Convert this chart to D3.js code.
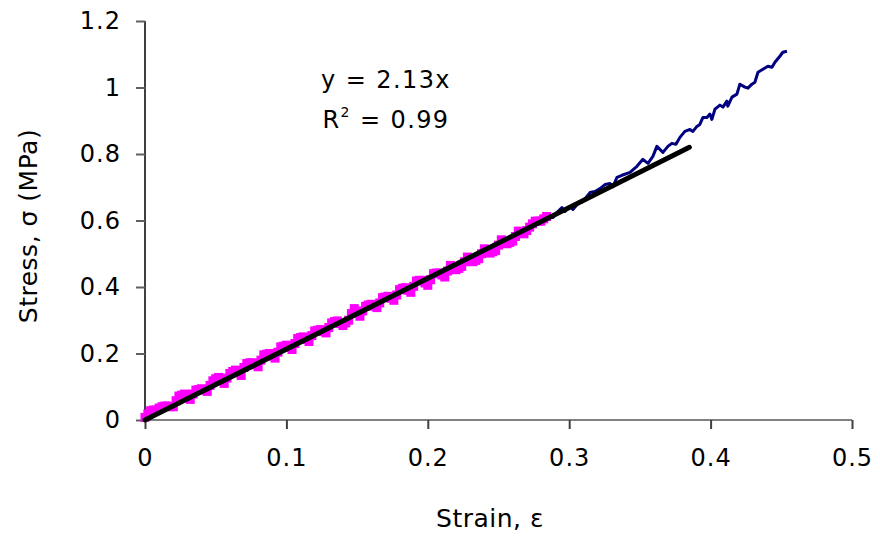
<!DOCTYPE html>
<html>
<head>
<meta charset="utf-8">
<script src="https://cdn.jsdelivr.net/npm/d3@7"></script>
<style>
body { margin: 0; background: #fff; }
text { font-family: "DejaVu Sans", Verdana, sans-serif; }
</style>
</head>
<body>
<div id="chart"></div>
<script>
// fitted range (magenta markers)
var fitStrain = [0, 0.004, 0.008, 0.012, 0.016, 0.020, 0.024, 0.028, 0.032, 0.036,
    0.040, 0.044, 0.048, 0.052, 0.056, 0.060, 0.064, 0.068, 0.072, 0.076,
    0.080, 0.084, 0.088, 0.092, 0.096, 0.100, 0.104, 0.108, 0.112, 0.116,
    0.120, 0.124, 0.128, 0.132, 0.136, 0.140, 0.144, 0.148, 0.152, 0.156,
    0.160, 0.164, 0.168, 0.172, 0.176, 0.180, 0.184, 0.188, 0.192, 0.196,
    0.200, 0.204, 0.208, 0.212, 0.216, 0.220, 0.224, 0.228, 0.232, 0.236,
    0.240, 0.244, 0.248, 0.252, 0.256, 0.260, 0.264, 0.268, 0.272, 0.276,
    0.280, 0.284];
var fitStress = [0.008, 0.028, 0.030, 0.040, 0.042, 0.040, 0.072, 0.078, 0.062, 0.090,
    0.094, 0.086, 0.118, 0.128, 0.110, 0.140, 0.150, 0.134, 0.170, 0.172,
    0.160, 0.196, 0.200, 0.186, 0.220, 0.225, 0.212, 0.245, 0.250, 0.236,
    0.268, 0.272, 0.262, 0.292, 0.298, 0.284, 0.300, 0.335, 0.312, 0.342,
    0.348, 0.338, 0.368, 0.372, 0.360, 0.392, 0.398, 0.384, 0.418, 0.420,
    0.405, 0.440, 0.442, 0.430, 0.465, 0.452, 0.462, 0.490, 0.476, 0.485,
    0.515, 0.502, 0.510, 0.542, 0.530, 0.538, 0.568, 0.560, 0.580, 0.598,
    0.598, 0.612];

// readings taken between the ones above
var midStrain = [0.002, 0.006, 0.010, 0.014, 0.018, 0.022, 0.026, 0.030, 0.034, 0.038,
    0.042, 0.046, 0.050, 0.054, 0.058, 0.062, 0.066, 0.070, 0.074, 0.078,
    0.082, 0.086, 0.090, 0.094, 0.098, 0.102, 0.106, 0.110, 0.114, 0.118,
    0.122, 0.126, 0.130, 0.134, 0.138, 0.142, 0.146, 0.150, 0.154, 0.158,
    0.162, 0.166, 0.170, 0.174, 0.178, 0.182, 0.186, 0.190, 0.194, 0.198,
    0.202, 0.206, 0.210, 0.214, 0.218, 0.222, 0.226, 0.230, 0.234, 0.238,
    0.242, 0.246, 0.250, 0.254, 0.258, 0.262, 0.266, 0.270, 0.274, 0.278,
    0.282];
var midStress = [0.018, 0.030, 0.036, 0.042, 0.040, 0.058, 0.075, 0.070, 0.078, 0.092,
    0.090, 0.104, 0.124, 0.118, 0.126, 0.146, 0.142, 0.158, 0.172, 0.166,
    0.180, 0.198, 0.192, 0.204, 0.222, 0.218, 0.230, 0.248, 0.242, 0.254,
    0.270, 0.266, 0.278, 0.296, 0.290, 0.292, 0.320, 0.322, 0.328, 0.346,
    0.342, 0.352, 0.370, 0.366, 0.376, 0.396, 0.390, 0.402, 0.420, 0.412,
    0.422, 0.442, 0.436, 0.448, 0.458, 0.456, 0.476, 0.482, 0.480, 0.500,
    0.508, 0.506, 0.526, 0.536, 0.534, 0.552, 0.564, 0.570, 0.590, 0.598,
    0.605];

// rest of the test (navy line)
var curveStrain = [0.2829, 0.2885, 0.2920, 0.2949, 0.2970, 0.3005, 0.3026, 0.3062, 0.3097, 0.3147,
    0.3182, 0.3218, 0.3253, 0.3289, 0.3310, 0.3338, 0.3373, 0.3430, 0.3479, 0.3521,
    0.3557, 0.3592, 0.3620, 0.3663, 0.3698, 0.3726, 0.3755, 0.3783, 0.3818, 0.3854,
    0.3875, 0.3903, 0.3924, 0.3946, 0.3974, 0.3995, 0.4009, 0.4031, 0.4066, 0.4087,
    0.4115, 0.4122, 0.4151, 0.4186, 0.4207, 0.4243, 0.4264, 0.4292, 0.4313, 0.4335,
    0.4370, 0.4405, 0.4434, 0.4455, 0.4490, 0.4511, 0.4540];
var curveStress = [0.615, 0.609, 0.627, 0.639, 0.627, 0.642, 0.633, 0.651, 0.657, 0.684,
    0.687, 0.696, 0.708, 0.711, 0.702, 0.730, 0.736, 0.745, 0.763, 0.784,
    0.772, 0.793, 0.823, 0.805, 0.823, 0.832, 0.829, 0.850, 0.868, 0.874,
    0.868, 0.883, 0.889, 0.910, 0.910, 0.920, 0.904, 0.935, 0.947, 0.941,
    0.959, 0.944, 0.971, 0.980, 1.010, 1.001, 0.998, 1.010, 1.016, 1.046,
    1.055, 1.064, 1.061, 1.076, 1.094, 1.106, 1.109];

var fitSlope = 2.13;
var fitR2 = 0.99;
var fitRange = [0, 0.385];

var xTicks = [0, 0.1, 0.2, 0.3, 0.4, 0.5];
var yTicks = [0, 0.2, 0.4, 0.6, 0.8, 1, 1.2];

var width = 880, height = 539;
var margin = {left: 145, right: 28, top: 21, bottom: 119};

var svg = d3.select('#chart')
    .append('svg')
    .attr('width', width)
    .attr('height', height);

var x = d3.scaleLinear().domain([0, 0.5]).range([margin.left, width - margin.right]);
var y = d3.scaleLinear().domain([0, 1.2]).range([height - margin.bottom, margin.top]);

// axes
var xAxis = svg.append('g')
    .attr('transform', 'translate(0,' + y(0) + ')')
    .call(d3.axisBottom(x).tickValues(xTicks).tickSize(9).tickPadding(20).tickFormat(d3.format('')));
xAxis.select('.domain').attr('stroke', '#808080').attr('stroke-width', 2).attr('d', 'M' + x(0) + ',0H' + x(0.5));
xAxis.selectAll('.tick line').attr('stroke', '#404040').attr('stroke-width', 2);

var yAxis = svg.append('g')
    .attr('transform', 'translate(' + x(0) + ',0)')
    .call(d3.axisLeft(y).tickValues(yTicks).tickSize(9).tickPadding(15).tickFormat(d3.format('')));
yAxis.select('.domain').attr('stroke', '#000').attr('stroke-width', 1.5).attr('d', 'M0,' + y(1.2) + 'V' + y(0));
yAxis.selectAll('.tick line').attr('stroke', '#606060').attr('stroke-width', 2);

svg.selectAll('.tick text')
    .attr('font-family', '"DejaVu Sans", Verdana, sans-serif')
    .style('font-size', '24px')
    .style('letter-spacing', '1px')
    .attr('fill', '#000');

// navy curve
var line = d3.line()
    .x(function(d){ return x(d[0]); })
    .y(function(d){ return y(d[1]); });

var curve = curveStrain.map(function(s, i){ return [s, curveStress[i]]; });
svg.append('path')
    .datum(curve)
    .attr('d', line)
    .attr('fill', 'none')
    .attr('stroke', '#000080')
    .attr('stroke-width', 3)
    .attr('stroke-linejoin', 'round');

// magenta markers
var pts = fitStrain.map(function(s, i){ return [s, fitStress[i]]; })
    .concat(midStrain.map(function(s, i){ return [s, midStress[i]]; }));
svg.append('g').selectAll('rect')
    .data(pts)
    .enter()
    .append('rect')
    .attr('x', function(d){ return x(d[0]) - 4.5; })
    .attr('y', function(d){ return y(d[1]) - 4.5; })
    .attr('width', 9)
    .attr('height', 9)
    .attr('fill', '#ff00ff');

// linear fit
svg.append('path')
    .datum(fitRange.map(function(s){ return [s, fitSlope * s]; }))
    .attr('d', line)
    .attr('stroke', '#000')
    .attr('stroke-width', 5)
    .attr('stroke-linecap', 'round');

// equation
svg.append('text')
    .attr('x', 386)
    .attr('y', 88)
    .attr('text-anchor', 'middle')
    .style('font-size', '24px')
    .style('letter-spacing', '1.4px')
    .text('y = ' + fitSlope + 'x');

var r2 = svg.append('text')
    .attr('x', 386)
    .attr('y', 128)
    .attr('text-anchor', 'middle')
    .style('font-size', '24px')
    .style('letter-spacing', '1.4px');
r2.append('tspan').text('R');
r2.append('tspan').attr('dy', -11).style('font-size', '14px').text('2');
r2.append('tspan').attr('dy', 11).text(' = ' + fitR2);

// axis titles
svg.append('text')
    .attr('x', 490)
    .attr('y', 527)
    .attr('text-anchor', 'middle')
    .style('font-size', '25px')
    .style('letter-spacing', '0.5px')
    .text('Strain, ε');

svg.append('text')
    .attr('transform', 'translate(37,226) rotate(-90)')
    .attr('text-anchor', 'middle')
    .style('font-size', '25px')
    .style('letter-spacing', '0.5px')
    .text('Stress, σ (MPa)');
</script>
</body>
</html>
